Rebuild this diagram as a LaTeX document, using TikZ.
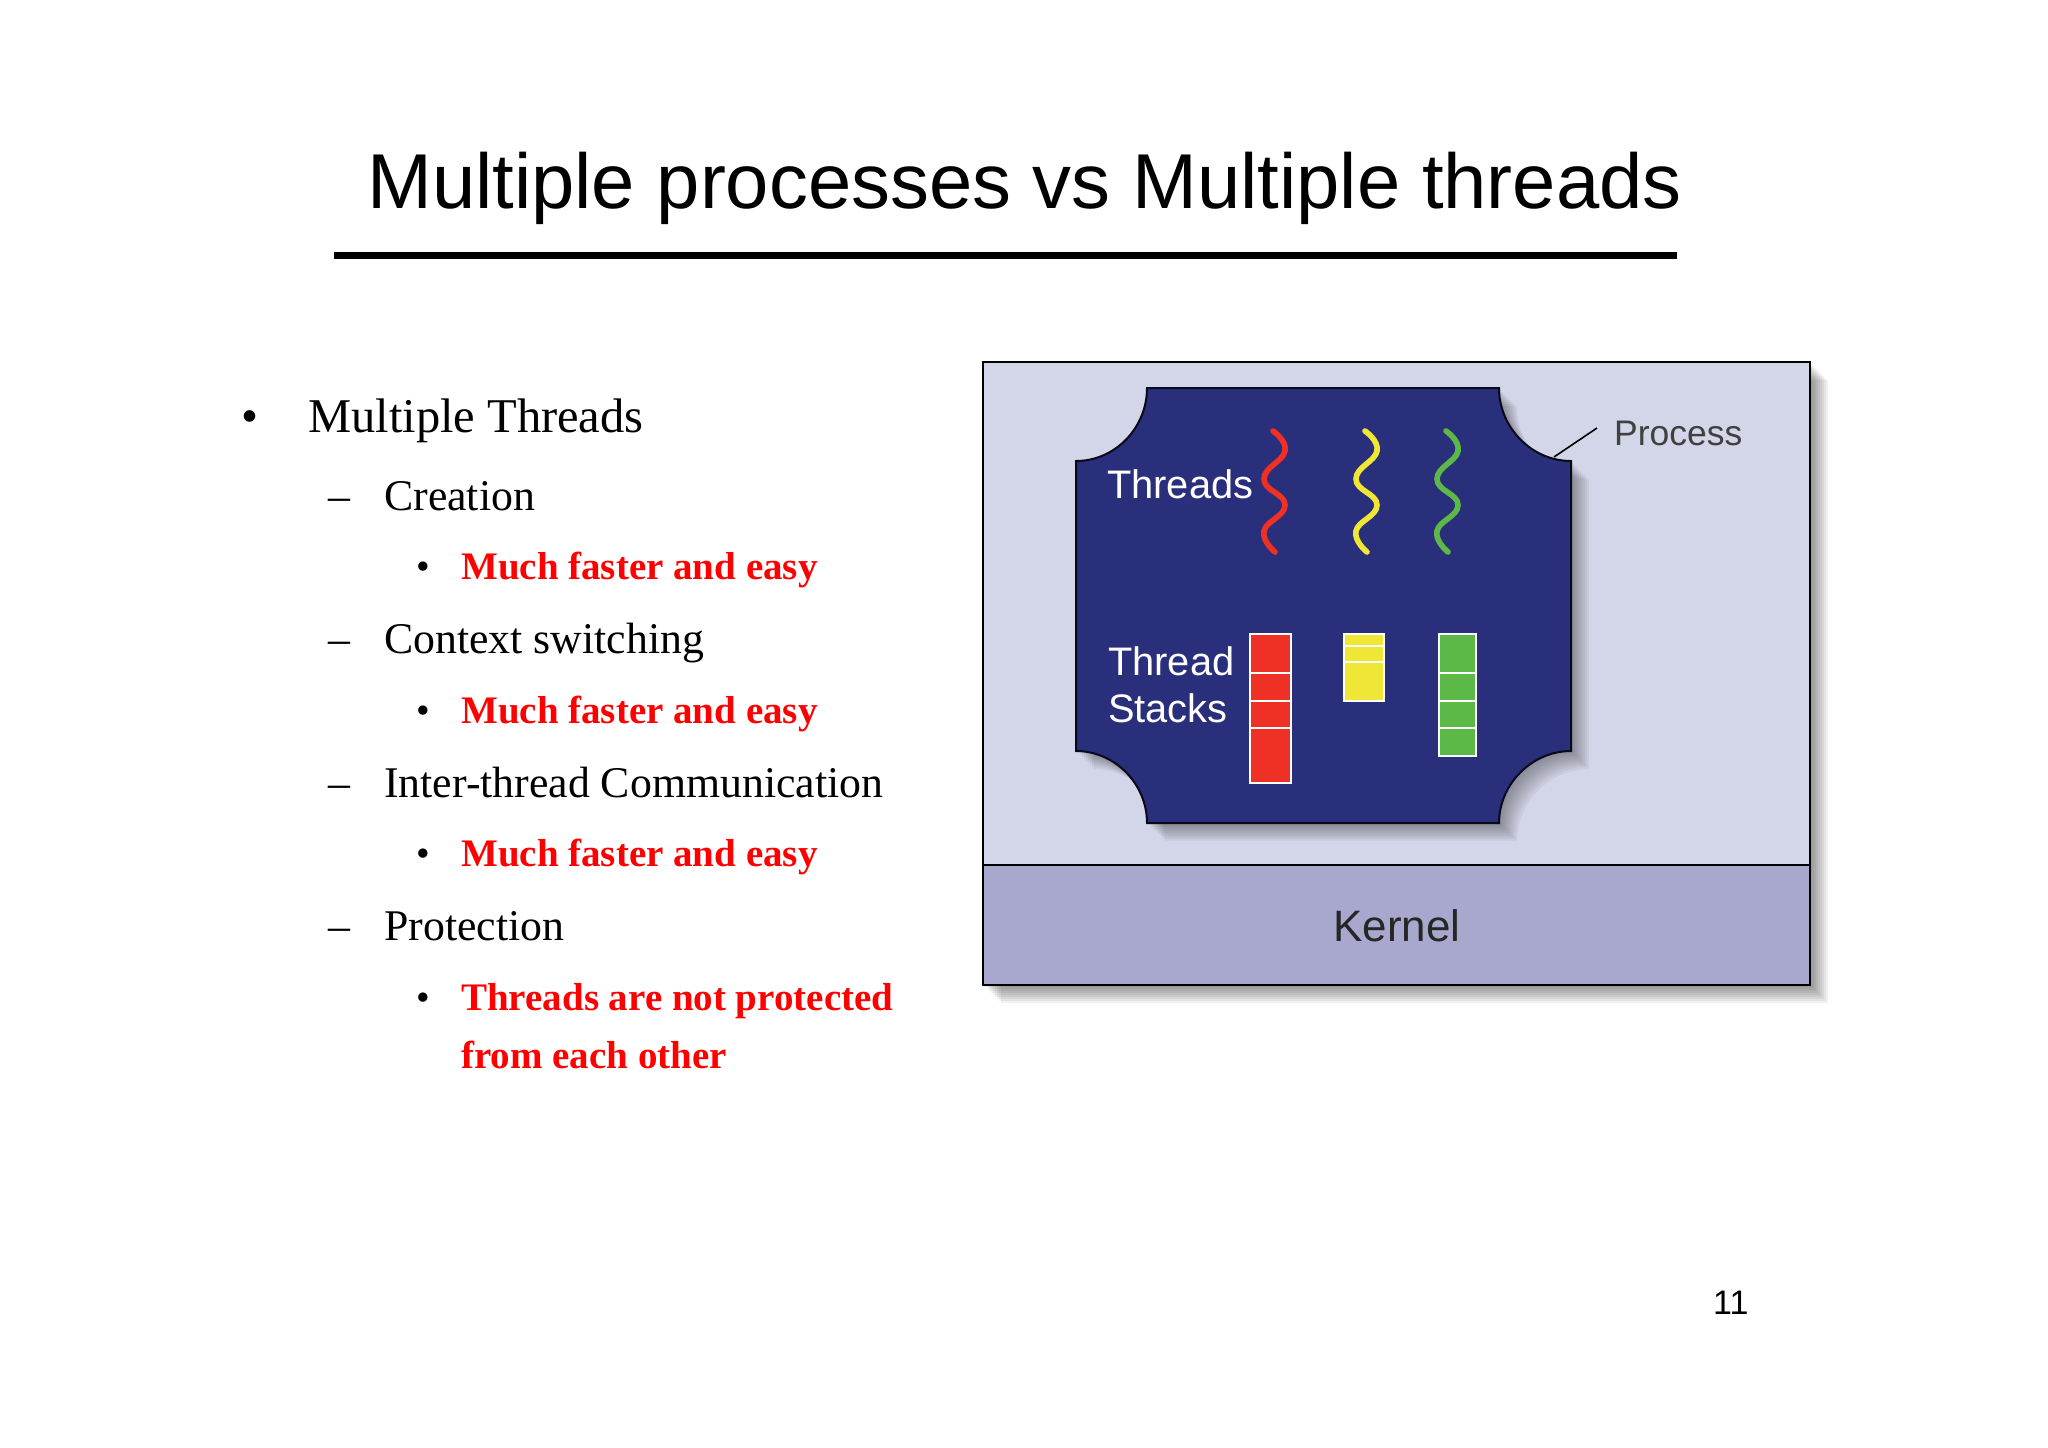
\documentclass[tikz,border=0pt]{standalone}
\usepackage{fontspec}
\setmainfont{Liberation Serif}
\newfontfamily\arialfont{Liberation Sans}
\definecolor{processbg}{HTML}{D3D5E8}
\definecolor{kernelbg}{HTML}{A8A8CE}
\definecolor{chipbg}{HTML}{2A2F7C}
\definecolor{threadred}{HTML}{EE3124}
\definecolor{threadyellow}{HTML}{F0E636}
\definecolor{threadgreen}{HTML}{5CB947}
\newcommand{\chippath}{(1147,388) -- (1499,388)
	.. controls (1499,428) and (1532,461) .. (1571,461) -- (1571,751)
	.. controls (1532,751) and (1499,784) .. (1499,823) -- (1147,823)
	.. controls (1147,784) and (1115,751) .. (1076,751) -- (1076,461)
	.. controls (1115,461) and (1147,428) .. (1147,388) -- cycle}
\tikzset{
	txt/.style = {inner sep = 0pt, anchor = base west},
	level one/.style = {txt, font = \fontsize{48.5}{49}\selectfont},
	level two/.style = {txt, font = \fontsize{43.8}{44}\selectfont},
	level three/.style = {txt, font = \fontsize{39}{39}\selectfont},
	answer/.style = {level three, text = red, font = \fontsize{39}{39}\selectfont\bfseries},
	sans/.style = {txt, font = \arialfont\fontsize{39.8}{40}\selectfont},
	thread/.style = {line width = 5.6pt, line cap = round},
	stackbox/.style = {draw = white, line width = 2.6pt},
	divider/.style = {white, line width = 2.2pt}
}
\begin{document}
\begin{tikzpicture}[x = 1pt, y = -1pt]

	\useasboundingbox (0,0) rectangle (2048,1448);

	\draw (367,208) node[txt, font = \arialfont\fontsize{77.8}{78}\selectfont] (title) {Multiple processes vs Multiple threads};
	\fill (334,251.5) rectangle (1677,258.5);

	\draw (241,432.5) node[level one] (b1) {•};
	\draw (308,432.5) node[level one] (t1) {Multiple Threads};

	\foreach \name/\ypos/\word in {creation/510/Creation, context/653/Context switching,
			inter/797/Inter-thread Communication, protect/940/Protection}
		\draw (384,\ypos) node[level two] (\name) {\word};
	\foreach \name/\ypos in {d1/510, d2/653, d3/797, d4/940}
		\draw (328,\ypos) node[level two] (\name) {–};

	\foreach \name/\ypos/\word in {fast1/579.5/Much faster and easy, fast2/723/Much faster and easy,
			fast3/866.5/Much faster and easy, prot1/1010/Threads are not protected, prot2/1068/from each other}
		\draw (461,\ypos) node[answer] (\name) {\word};
	\foreach \name/\ypos in {s1/579.5, s2/723, s3/866.5, s4/1010}
		\draw (416,\ypos) node[level three] (\name) {•};

	\foreach \i in {1,...,9}
		\fill[black, opacity = 0.055] (983+2*\i,362+2*\i) rectangle (1810+2*\i,985+2*\i);

	\draw[black, line width = 2pt, fill = processbg] (983,362) rectangle (1810,865);
	\draw[black, line width = 2pt, fill = kernelbg] (983,865) rectangle (1810,985);

	\foreach \i in {1,...,9}
		\fill[black, opacity = 0.045, xshift = 2pt*\i, yshift = -2pt*\i] \chippath;
	\draw[black!80!chipbg, line width = 2pt, fill = chipbg] \chippath;

	\coordinate (corner) at (1554,457);
	\draw (1614,445) node[sans, text = black!75, font = \arialfont\fontsize{35.5}{36}\selectfont] (process) {Process};
	\coordinate (leader) at (1597,428);
	\draw[black, line width = 1.6pt] (corner) -- (leader);

	\draw (1397,941) node[sans, anchor = base, text = black!85, font = \arialfont\fontsize{44}{44}\selectfont] (kernel) {Kernel};
	\draw (1107,498) node[sans, text = white] (threads) {Threads};
	\draw (1108,675) node[sans, text = white] (thread) {Thread};
	\draw (1108,722) node[sans, text = white] (stacks) {Stacks};

	\foreach \col/\shift in {threadred/0, threadyellow/92, threadgreen/173}
		\draw[thread, \col, xshift = \shift pt] plot[smooth, tension = 0.8] coordinates
			{(1273,431) (1285,451) (1264,479) (1285,505) (1264,531) (1275,552)};

	\draw[stackbox, fill = threadred] (1250,634) rectangle (1291,783);
	\draw[stackbox, fill = threadyellow] (1344,634) rectangle (1384,701);
	\draw[stackbox, fill = threadgreen] (1439,634) rectangle (1476,756);
	\foreach \ypos in {673,701,728} {
		\draw[divider] (1250,\ypos) -- (1291,\ypos);
		\draw[divider] (1439,\ypos) -- (1476,\ypos);
	}
	\foreach \ypos in {646,662}
		\draw[divider] (1344,\ypos) -- (1384,\ypos);

	\draw (1713,1314) node[sans, font = \arialfont\fontsize{34}{34}\selectfont] (page) {11};
\end{tikzpicture}
\end{document}
